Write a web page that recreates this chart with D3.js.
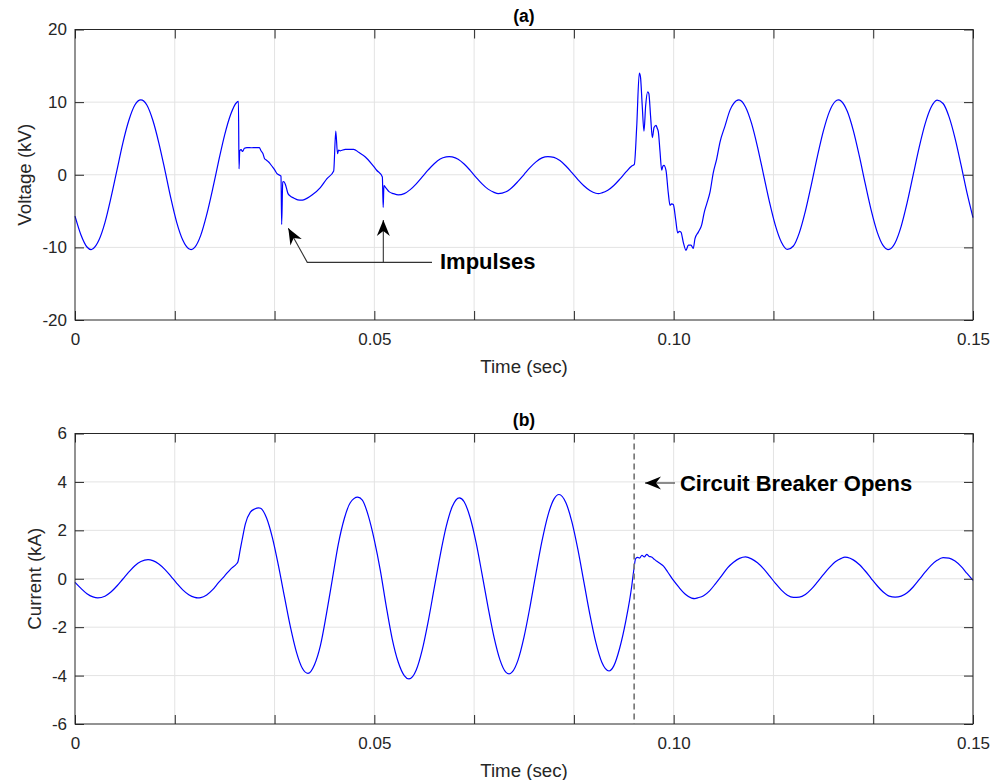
<!DOCTYPE html>
<html>
<head>
<meta charset="utf-8">
<script src="https://cdn.jsdelivr.net/npm/d3@7"></script>
<style>
  html, body { margin: 0; padding: 0; background: #fff; }
  svg { display: block; font-family: "Liberation Sans", Arial, Helvetica, sans-serif; }
</style>
</head>
<body>
<svg id="chart" width="992" height="780"></svg>
<script>
// ---- Bus voltage (kV) vs time (s) ----
const voltagePreFault = [
  [0, -5.7], [0.001, -8.3], [0.002, -9.95], [0.0027, -10.3], [0.003, -10.2], [0.004, -9.0],
  [0.005, -6.6], [0.006, -3.2], [0.007, 0.6], [0.008, 4.4], [0.009, 7.5], [0.010, 9.6],
  [0.011, 10.3], [0.012, 9.6], [0.013, 7.5], [0.014, 4.4], [0.015, 0.7], [0.016, -3.2],
  [0.017, -6.6], [0.018, -9.0], [0.019, -10.2], [0.0194, -10.3], [0.020, -10.0], [0.021, -8.35],
  [0.022, -5.5], [0.023, -1.95], [0.024, 1.9], [0.025, 5.5], [0.026, 8.3], [0.027, 9.95],
  [0.0273, 10.1]
];
const voltageFault = [
  [0.02740, 0.8], [0.02752, 3.3], [0.02775, 3.45], [0.02800, 3.2], [0.02830, 3.65],
  [0.02873, 3.74], [0.02950, 3.72], [0.03020, 3.74], [0.03079, 3.74], [0.03107, 3.3],
  [0.03140, 2.9], [0.03168, 2.2], [0.03200, 2.0], [0.03235, 1.75], [0.03291, 1.17],
  [0.03330, 0.75], [0.03374, 0.16], [0.03441, -0.2], [0.03452, -6.85], [0.03470, -1.0],
  [0.03486, -0.95], [0.03513, -1.3], [0.03540, -2.1], [0.03558, -2.6], [0.03600, -2.95],
  [0.03653, -3.2], [0.03720, -3.45], [0.03792, -3.5], [0.03820, -3.45], [0.03959, -2.8],
  [0.04098, -1.77], [0.04209, -0.53], [0.04321, 0.53], [0.04356, 6.0], [0.04385, 2.9],
  [0.04404, 3.4], [0.04430, 3.3], [0.04516, 3.5], [0.04655, 3.5], [0.04738, 3.1],
  [0.04850, 2.45], [0.04961, 1.44], [0.05039, 0.62], [0.05134, -0.3], [0.05148, -4.5],
  [0.05160, -1.5], [0.05190, -1.77], [0.05250, -2.36], [0.05320, -2.6], [0.05400, -2.77],
  [0.055, -2.6], [0.056, -2.05], [0.057, -1.25], [0.058, -0.3], [0.059, 0.66], [0.060, 1.52],
  [0.061, 2.17], [0.062, 2.45], [0.0625, 2.5], [0.063, 2.45], [0.064, 2.14], [0.065, 1.48],
  [0.066, 0.61], [0.067, -0.35], [0.068, -1.25], [0.069, -1.98], [0.070, -2.43], [0.0707, -2.6],
  [0.072, -2.35], [0.073, -1.75], [0.074, -0.91], [0.075, 0.03], [0.076, 0.97], [0.077, 1.77],
  [0.078, 2.32], [0.079, 2.5], [0.080, 2.4], [0.081, 1.95], [0.082, 1.2], [0.083, 0.29],
  [0.084, -0.66], [0.085, -1.52], [0.086, -2.17], [0.087, -2.55], [0.0874, -2.6], [0.088, -2.5],
  [0.089, -2.14], [0.090, -1.48], [0.091, -0.61], [0.092, 0.35], [0.093, 1.2], [0.09343, 1.44]
];
const voltagePostFault = [
  [0.09382, 6.5], [0.09426, 14.0], [0.09445, 13.5], [0.09475, 9.5], [0.09504, 6.0],
  [0.09532, 9.5], [0.09566, 11.4], [0.09585, 11.2], [0.09615, 8.0], [0.09644, 5.1],
  [0.09672, 6.5], [0.09705, 6.8], [0.09725, 6.4], [0.09744, 5.9], [0.09772, 3.2],
  [0.09800, 0.62], [0.09820, 1.2], [0.09838, 1.3], [0.09872, 0.6], [0.09910, -2.5],
  [0.09939, -4.2], [0.09965, -4.0], [0.09994, -4.1], [0.10034, -6.2], [0.10067, -8.0],
  [0.10095, -7.8], [0.10122, -7.9], [0.10161, -9.3], [0.10206, -10.4], [0.10245, -9.7],
  [0.10290, -9.7], [0.10327, -10.15], [0.10356, -8.8], [0.10412, -7.9], [0.10468, -6.9],
  [0.10510, -5.2], [0.10552, -4.0], [0.10607, -2.4], [0.10662, 0.3], [0.10719, 2.2],
  [0.10774, 4.5], [0.10857, 6.7], [0.10941, 8.9], [0.11000, 9.8], [0.11090, 10.3],
  [0.112, 9.34], [0.113, 7.1], [0.114, 3.85], [0.115, 0.06], [0.116, -3.73], [0.117, -7.0],
  [0.118, -9.29], [0.119, -10.28], [0.120, -9.81], [0.121, -7.97], [0.122, -5.02], [0.123, -1.36],
  [0.124, 2.5], [0.125, 6.0], [0.126, 8.66], [0.127, 10.1], [0.1275, 10.3], [0.128, 10.13],
  [0.129, 8.73], [0.130, 6.11], [0.131, 2.62], [0.132, -1.23], [0.133, -4.91], [0.134, -7.9],
  [0.135, -9.77], [0.1358, -10.3], [0.136, -10.28], [0.137, -9.35], [0.138, -7.1], [0.139, -3.85],
  [0.140, -0.06], [0.141, 3.73], [0.142, 7.0], [0.143, 9.29], [0.144, 10.28], [0.145, 9.81],
  [0.146, 7.97], [0.147, 5.02], [0.148, 1.36], [0.149, -2.5], [0.150, -5.9]
];

// ---- Line current (kA) vs time (s) ----
const currentPreFault = [
  [0, -0.15], [0.001, -0.4], [0.002, -0.62], [0.003, -0.75], [0.0038, -0.79], [0.005, -0.72],
  [0.006, -0.55], [0.007, -0.3], [0.008, -0.01], [0.009, 0.28], [0.010, 0.54], [0.011, 0.71],
  [0.0122, 0.79], [0.013, 0.75], [0.014, 0.61], [0.015, 0.39], [0.016, 0.11], [0.017, -0.19],
  [0.018, -0.46], [0.019, -0.66], [0.020, -0.77], [0.0205, -0.79], [0.021, -0.78], [0.022, -0.67],
  [0.023, -0.45], [0.024, -0.15], [0.025, 0.12], [0.026, 0.4], [0.027, 0.62], [0.0272, 0.69]
];
const currentFault = [
  [0.0276, 1.2], [0.0279, 1.59], [0.02846, 2.27], [0.02929, 2.75], [0.0300, 2.88], [0.03068, 2.93],
  [0.031, 2.91], [0.032, 2.51], [0.033, 1.67], [0.034, 0.52], [0.035, -0.76], [0.036, -2.01],
  [0.037, -3.04], [0.038, -3.71], [0.03892, -3.91], [0.040, -3.55], [0.041, -2.75], [0.042, -1.45],
  [0.043, 0.0], [0.044, 1.45], [0.045, 2.5], [0.046, 3.15], [0.04722, 3.37], [0.048, 3.25],
  [0.049, 2.6], [0.050, 1.6], [0.051, 0.35], [0.052, -1.15], [0.053, -2.5], [0.054, -3.45],
  [0.055, -4.0], [0.05579, -4.14], [0.057, -3.77], [0.058, -2.94], [0.059, -1.76], [0.060, -0.39],
  [0.061, 0.97], [0.062, 2.15], [0.063, 2.97], [0.0642, 3.34], [0.065, 3.18], [0.066, 2.53],
  [0.067, 1.49], [0.068, 0.18], [0.069, -1.18], [0.070, -2.42], [0.071, -3.36], [0.072, -3.87],
  [0.0725, -3.93], [0.073, -3.86], [0.074, -3.36], [0.075, -2.41], [0.076, -1.16], [0.077, 0.23],
  [0.078, 1.55], [0.079, 2.62], [0.080, 3.29], [0.08085, 3.48], [0.082, 3.14], [0.083, 2.35],
  [0.084, 1.21], [0.085, -0.13], [0.086, -1.47], [0.087, -2.63], [0.088, -3.45], [0.0892, -3.81],
  [0.090, -3.6], [0.091, -2.85], [0.092, -1.75], [0.093, -0.3], [0.09326, 0.21], [0.09365, 0.83]
];
const currentPostFault = [
  [0.0940, 0.88], [0.0943, 0.85], [0.0947, 0.97], [0.0951, 0.9], [0.0955, 1.01], [0.0959, 0.92],
  [0.0963, 0.9], [0.0966, 0.84], [0.0972, 0.72], [0.0978, 0.62], [0.0983, 0.52], [0.0990, 0.28],
  [0.09994, -0.06], [0.1009, -0.36], [0.1020, -0.65], [0.1030, -0.8], [0.10356, -0.82],
  [0.104, -0.79], [0.105, -0.7], [0.106, -0.5], [0.107, -0.2], [0.108, 0.12], [0.109, 0.45],
  [0.110, 0.68], [0.111, 0.84], [0.112, 0.9], [0.113, 0.82], [0.114, 0.66], [0.115, 0.42],
  [0.116, 0.12], [0.117, -0.19], [0.118, -0.47], [0.119, -0.68], [0.120, -0.77], [0.121, -0.76],
  [0.122, -0.65], [0.123, -0.43], [0.124, -0.14], [0.125, 0.17], [0.126, 0.46], [0.127, 0.7],
  [0.128, 0.84], [0.1286, 0.89], [0.129, 0.88], [0.130, 0.78], [0.131, 0.59], [0.132, 0.32],
  [0.133, 0.01], [0.134, -0.29], [0.135, -0.55], [0.136, -0.72], [0.137, -0.76], [0.138, -0.72],
  [0.139, -0.58], [0.140, -0.34], [0.141, -0.04], [0.142, 0.27], [0.143, 0.55], [0.144, 0.76],
  [0.145, 0.87], [0.146, 0.85], [0.147, 0.73], [0.148, 0.51], [0.149, 0.22], [0.150, -0.07]
];

// ---- Axis ticks ----
const timeTicks = d3.range(0, 10).map(k => k / 60);     // tick every cycle (60 Hz)
const timeLabels = { 0: "0", 3: "0.05", 6: "0.10", 9: "0.15" };
const voltageTicks = [-20, -10, 0, 10, 20];
const currentTicks = [-6, -4, -2, 0, 2, 4, 6];

// ---- Annotations (data units) ----
const breakerTime = 0.0934;
const impulseArrows = [
  { tip: [0.03563, -7.37], path: [[0.05963, -12.06], [0.0388, -12.06]] },
  { tip: [0.0515, -6.23], path: [[0.0515, -12.06]] }
];
const impulseLabel = { text: "Impulses", at: [0.06097, -12.98] };
const breakerArrow = { tip: [0.09521, 3.955], tail: [0.10022, 3.955] };
const breakerLabel = { text: "Circuit Breaker Opens", at: [0.10105, 3.645] };

// ---- Drawing ----
const svg = d3.select("#chart");
const ink = "#262626";
const x = d3.scaleLinear().domain([0, 0.15]).range([75, 973]);

const panels = [
  { title: "(a)", titleY: 22, ylabel: "Voltage (kV)", ylabelX: 24.5, xlabelY: 373,
    y: d3.scaleLinear().domain([-20, 20]).range([320, 29.5]), ticks: voltageTicks,
    series: [voltagePreFault, voltageFault, voltagePostFault] },
  { title: "(b)", titleY: 426, ylabel: "Current (kA)", ylabelX: 34.5, xlabelY: 777,
    y: d3.scaleLinear().domain([-6, 6]).range([724, 433.5]), ticks: currentTicks,
    series: [currentPreFault, currentFault, currentPostFault] }
];

function arrowHead(g, tip, from) {
  const ang = Math.atan2(tip[1] - from[1], tip[0] - from[0]);
  const L = 16, W = 6.5, N = 11;
  const pts = [[0, 0], [-L, -W], [-N, 0], [-L, W]].map(([a, b]) => [
    tip[0] + a * Math.cos(ang) - b * Math.sin(ang),
    tip[1] + a * Math.sin(ang) + b * Math.cos(ang)
  ]);
  g.append("path").attr("d", "M" + pts.map(p => p.join(",")).join("L") + "Z").attr("fill", "#000");
}

panels.forEach((p, pi) => {
  const g = svg.append("g");
  const [y0, y1] = p.y.range();
  const x0 = x.range()[0], x1 = x.range()[1];

  // grid
  g.append("g").selectAll("line.vx").data(timeTicks.slice(1)).join("line")
    .attr("x1", d => x(d)).attr("x2", d => x(d)).attr("y1", y1).attr("y2", y0)
    .attr("stroke", "#e3e3e3").attr("stroke-width", 1);
  g.append("g").selectAll("line.hy").data(p.ticks.slice(1, -1)).join("line")
    .attr("x1", x0).attr("x2", x1).attr("y1", d => p.y(d)).attr("y2", d => p.y(d))
    .attr("stroke", "#e3e3e3").attr("stroke-width", 1);

  // waveform
  const line = d3.line().x(d => x(d[0])).y(d => p.y(d[1])).curve(d3.curveMonotoneX);
  const all = [].concat(...p.series);
  g.append("path").datum(all).attr("d", line).attr("fill", "none")
    .attr("stroke", "#0000ff").attr("stroke-width", 1.2).attr("stroke-linejoin", "round");

  // axes (ticks inward on all four sides)
  const fmt = (d, i) => timeLabels[i] !== undefined ? timeLabels[i] : "";
  const styleAxis = a => {
    a.selectAll(".domain").remove();
    a.selectAll("line").attr("stroke", ink);
    a.selectAll("text").attr("fill", ink).style("font-size", "17px");
  };
  svg.append("g").attr("transform", `translate(0,${y0})`)
    .call(d3.axisBottom(x).tickValues(timeTicks).tickFormat(fmt).tickSizeInner(-9).tickSizeOuter(0).tickPadding(13))
    .call(styleAxis);
  svg.append("g").attr("transform", `translate(0,${y1})`)
    .call(d3.axisTop(x).tickValues(timeTicks).tickFormat("").tickSizeInner(-9).tickSizeOuter(0))
    .call(styleAxis);
  svg.append("g").attr("transform", `translate(${x0},0)`)
    .call(d3.axisLeft(p.y).tickValues(p.ticks).tickFormat(d => String(d)).tickSizeInner(-9).tickSizeOuter(0).tickPadding(8))
    .call(styleAxis);
  svg.append("g").attr("transform", `translate(${x1},0)`)
    .call(d3.axisRight(p.y).tickValues(p.ticks).tickFormat("").tickSizeInner(-9).tickSizeOuter(0))
    .call(styleAxis);

  // box
  svg.append("rect").attr("x", x0).attr("y", y1).attr("width", x1 - x0).attr("height", y0 - y1)
    .attr("fill", "none").attr("stroke", ink).attr("stroke-width", 1);

  // labels
  svg.append("text").attr("x", (x0 + x1) / 2).attr("y", p.titleY).attr("text-anchor", "middle")
    .attr("font-weight", "bold").attr("font-size", 17.5).attr("fill", "#000").text(p.title);
  svg.append("text").attr("x", (x0 + x1) / 2).attr("y", p.xlabelY).attr("text-anchor", "middle")
    .attr("font-size", 18.7).attr("fill", ink).text("Time (sec)");
  svg.append("text").attr("transform", `translate(${p.ylabelX},${(y0 + y1) / 2}) rotate(-90)`)
    .attr("text-anchor", "middle").attr("dy", "0.35em")
    .attr("font-size", 18.7).attr("fill", ink).text(p.ylabel);

  // annotations
  const ann = svg.append("g");
  if (pi === 0) {
    impulseArrows.forEach(a => {
      const pts = a.path.map(d => [x(d[0]), p.y(d[1])]);
      const tip = [x(a.tip[0]), p.y(a.tip[1])];
      ann.append("path").attr("d", d3.line()(pts.concat([tip]))).attr("fill", "none")
        .attr("stroke", "#333").attr("stroke-width", 1.1);
      arrowHead(ann, tip, pts[pts.length - 1]);
    });
    ann.append("text").attr("x", x(impulseLabel.at[0])).attr("y", p.y(impulseLabel.at[1]))
      .attr("font-weight", "bold").attr("font-size", 22).attr("fill", "#000").text(impulseLabel.text);
  } else {
    ann.append("line").attr("x1", x(breakerTime)).attr("x2", x(breakerTime))
      .attr("y1", y1).attr("y2", y0).attr("stroke", "#7a7a7a").attr("stroke-width", 1.7)
      .attr("stroke-dasharray", "6,4");
    const tip = [x(breakerArrow.tip[0]), p.y(breakerArrow.tip[1])];
    const tail = [x(breakerArrow.tail[0]), p.y(breakerArrow.tail[1])];
    ann.append("line").attr("x1", tail[0]).attr("y1", tail[1]).attr("x2", tip[0]).attr("y2", tip[1])
      .attr("stroke", "#333").attr("stroke-width", 1.1);
    arrowHead(ann, tip, tail);
    ann.append("text").attr("x", x(breakerLabel.at[0])).attr("y", p.y(breakerLabel.at[1]))
      .attr("font-weight", "bold").attr("font-size", 22).attr("fill", "#000").text(breakerLabel.text);
  }
});
</script>
</body>
</html>
